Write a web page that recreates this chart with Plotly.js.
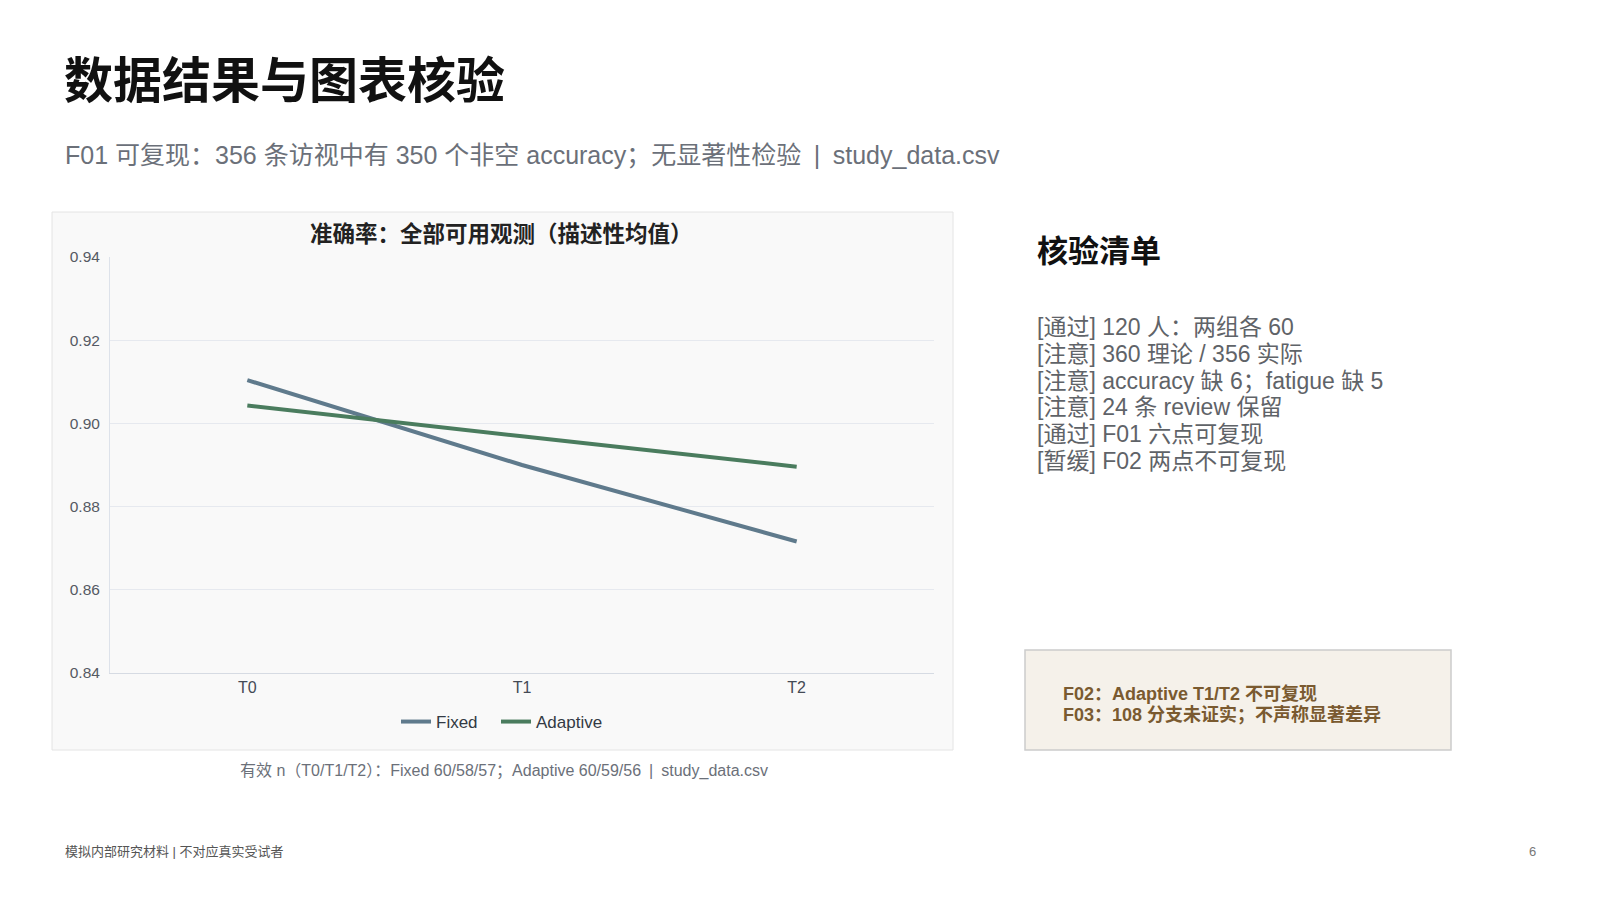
<!DOCTYPE html>
<html>
<head>
<meta charset="utf-8">
<script src="https://cdn.plot.ly/plotly-3.0.1.min.js"></script>
<style>
  html, body { margin: 0; padding: 0; background: white; }
  #chart { width: 1600px; height: 900px; }
</style>
</head>
<body>
<div id="chart"></div>
<script>
// Accuracy check slide: two-group mean accuracy across visits

const visits = ['T0', 'T1', 'T2'];
const fixedAcc = [0.9104, 0.8900, 0.8716];
const adaptiveAcc = [0.9043, 0.8969, 0.8896];
const yTicks = [0.84, 0.86, 0.88, 0.90, 0.92, 0.94];
const checklist = [
  '[通过] 120 人：两组各 60',
  '[注意] 360 理论 / 356 实际',
  '[注意] accuracy 缺 6；fatigue 缺 5',
  '[注意] 24 条 review 保留',
  '[通过] F01 六点可复现',
  '[暂缓] F02 两点不可复现'
];
const notes = [
  'F02：Adaptive T1/T2 不可复现',
  'F03：108 分支未证实；不声称显著差异'
];

const W = 1600, H = 900;
const px = x => x / W;
const py = y => 1 - y / H;
const FONT = '"Liberation Sans", "Noto Sans CJK SC", sans-serif';
const SEP = '\u2002|\u2002';

function text(str, x, y, size, color, opts) {
  opts = opts || {};
  const a = {
    text: opts.bold ? '<b>' + str + '</b>' : str,
    xref: 'paper', yref: 'paper',
    x: px(x), y: py(y),
    xanchor: opts.anchor || 'left', yanchor: 'middle',
    showarrow: false,
    font: { family: FONT, size: size, color: color }
  };
  if (opts.height) a.height = opts.height;
  return a;
}

const traces = [
  {
    x: visits, y: fixedAcc, name: 'Fixed', mode: 'lines', legend: 'legend',
    line: { color: '#5f7a8c', width: 4, shape: 'spline', smoothing: 0.35 },
    hoverinfo: 'skip'
  },
  {
    x: visits, y: adaptiveAcc, name: 'Adaptive', mode: 'lines', legend: 'legend2',
    line: { color: '#4a7c5e', width: 4, shape: 'spline', smoothing: 0.35 },
    hoverinfo: 'skip'
  }
];

const annotations = [
  text('数据结果与图表核验', 62, 81, 49, '#111111', { bold: true }),
  text('F01 可复现：356 条访视中有 350 个非空 accuracy；无显著性检验' + SEP + 'study_data.csv', 63, 155, 25, '#6b7079'),
  text('准确率：全部可用观测（描述性均值）', 502, 234, 22.5, '#222222', { bold: true, anchor: 'center' }),
  text('有效 n（T0/T1/T2）：Fixed 60/58/57；Adaptive 60/59/56' + SEP + 'study_data.csv', 504, 771, 16, '#6b7079', { anchor: 'center' }),
  text('核验清单', 1035, 251, 31, '#111111', { bold: true }),
  text('模拟内部研究材料 | 不对应真实受试者', 63, 851, 13, '#555555'),
  text('6', 1538, 851, 13, '#777777', { anchor: 'right' })
];
checklist.forEach((s, i) => annotations.push(
  text(s, 1035, 327 + i * 26.8, 23, '#5f6368', { height: 26 })));
notes.forEach((s, i) => annotations.push(
  text(s, 1061, 693 + i * 21.5, 18, '#7a5a30', { bold: true, height: 21 })));

const shapes = [
  {
    type: 'rect', xref: 'paper', yref: 'paper', layer: 'below',
    x0: px(52), x1: px(953), y0: py(750), y1: py(212),
    fillcolor: '#f9f9f9', line: { color: '#e4e4e4', width: 1 }
  },
  {
    type: 'rect', xref: 'paper', yref: 'paper', layer: 'below',
    x0: px(1025), x1: px(1451), y0: py(750), y1: py(650),
    fillcolor: '#f5f1ea', line: { color: '#cccccc', width: 1.5 }
  }
];

function legendAt(x) {
  return {
    orientation: 'h', x: px(x), xanchor: 'left', y: py(722), yanchor: 'middle',
    font: { family: FONT, size: 17, color: '#333a44' },
    bgcolor: 'rgba(0,0,0,0)'
  };
}

const layout = {
  width: W, height: H,
  margin: { l: 0, r: 0, t: 0, b: 0 },
  paper_bgcolor: 'white',
  plot_bgcolor: '#f9f9f9',
  font: { family: FONT, color: '#555555' },
  showlegend: true,
  legend: legendAt(396),
  legend2: legendAt(496),
  xaxis: {
    domain: [px(110), px(934)],
    range: [-0.5, 2.5],
    type: 'category',
    showgrid: false,
    showline: true, linecolor: '#d6dbe3', linewidth: 1,
    ticks: '', tickfont: { size: 16, color: '#444a55' },
    zeroline: false, fixedrange: true
  },
  yaxis: {
    domain: [py(673), py(257)],
    range: [0.84, 0.94],
    tickvals: yTicks,
    ticktext: yTicks.map(v => v.toFixed(2)),
    showgrid: true, gridcolor: '#e6e9ef', gridwidth: 1,
    showline: true, linecolor: '#dde2ea', linewidth: 1,
    ticks: '', ticklabelstandoff: 6,
    tickfont: { size: 15.5, color: '#555a63' },
    zeroline: false, fixedrange: true
  },
  shapes: shapes,
  annotations: annotations
};

Plotly.newPlot('chart', traces, layout, { displayModeBar: false, staticPlot: true });
</script>
</body>
</html>
